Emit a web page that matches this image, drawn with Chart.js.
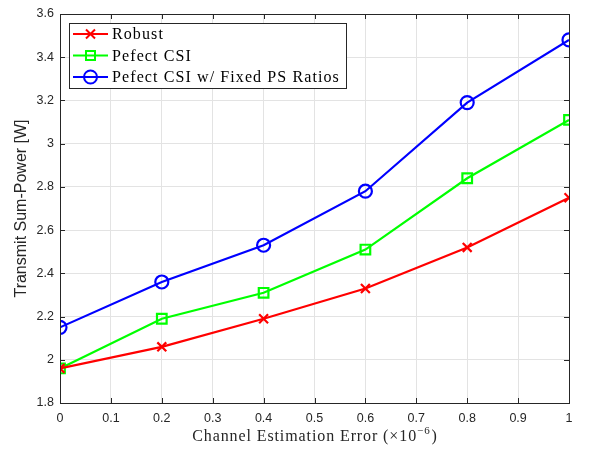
<!DOCTYPE html>
<html>
<head>
<meta charset="utf-8">
<script src="https://cdn.jsdelivr.net/npm/chart.js@4"></script>
<style>
  body { margin: 0; background: #fff; }
  #wrap { width: 589px; height: 450px; }
</style>
</head>
<body>
<div id="wrap"><canvas id="myChart" width="589" height="450"></canvas></div>
<script>
  const errors = [0, 0.2, 0.4, 0.6, 0.8, 1.0];
  const robust = [1.96, 2.06, 2.19, 2.33, 2.52, 2.75];
  const perfectCsi = [1.96, 2.19, 2.31, 2.51, 2.84, 3.11];
  const fixedPs = [2.15, 2.36, 2.53, 2.78, 3.19, 3.48];
  const seriesNames = ['Robust', 'Pefect CSI', 'Pefect CSI w/ Fixed PS Ratios'];
  const xTitle = 'Channel Estimation Error (×10';
  const xTitleExp = '−6';
  const yTitle = 'Transmit Sum-Power [W]';

  const toPoints = ys => ys.map((y, i) => ({ x: errors[i], y: y }));

  // MATLAB style box, inward ticks, axis titles and legend inside the axes
  const matlabBox = {
    id: 'matlabBox',
    afterDraw(chart) {
      const { ctx, chartArea: a, scales } = chart;
      ctx.save();
      ctx.strokeStyle = '#262626';
      ctx.lineWidth = 1;
      ctx.strokeRect(a.left + 0.5, a.top + 0.5, a.right - a.left, a.bottom - a.top);
      ctx.beginPath();
      scales.x.ticks.forEach(t => {
        const px = Math.round(scales.x.getPixelForValue(t.value)) + 0.5;
        ctx.moveTo(px, a.bottom); ctx.lineTo(px, a.bottom - 5);
        ctx.moveTo(px, a.top); ctx.lineTo(px, a.top + 5);
      });
      scales.y.ticks.forEach(t => {
        const py = Math.round(scales.y.getPixelForValue(t.value)) + 0.5;
        ctx.moveTo(a.left, py); ctx.lineTo(a.left + 5, py);
        ctx.moveTo(a.right, py); ctx.lineTo(a.right - 5, py);
      });
      ctx.stroke();

      // axis titles
      ctx.fillStyle = '#262626';
      ctx.textBaseline = 'middle';
      ctx.font = '16px "Liberation Sans", Arial, sans-serif';
      ctx.save();
      ctx.translate(22, (a.top + a.bottom) / 2);
      ctx.rotate(-Math.PI / 2);
      ctx.textAlign = 'center';
      ctx.fillText(yTitle, 0, 0);
      ctx.restore();

      ctx.font = '16px "Liberation Serif", serif';
      ctx.letterSpacing = '0.9px';
      const w1 = ctx.measureText(xTitle).width;
      ctx.font = '11px "Liberation Serif", serif';
      const w2 = ctx.measureText(xTitleExp).width;
      ctx.font = '16px "Liberation Serif", serif';
      const w3 = ctx.measureText(')').width;
      let tx = (a.left + a.right) / 2 - (w1 + w2 + w3) / 2;
      ctx.textAlign = 'left';
      ctx.fillText(xTitle, tx, 437);
      ctx.font = '11px "Liberation Serif", serif';
      ctx.fillText(xTitleExp, tx + w1, 431);
      ctx.font = '16px "Liberation Serif", serif';
      ctx.fillText(')', tx + w1 + w2 + 1, 437);

      // legend
      const lx = a.left + 9, ly = a.top + 9, lw = 277, lh = 65;
      ctx.fillStyle = '#fff';
      ctx.fillRect(lx, ly, lw, lh);
      ctx.strokeStyle = '#262626';
      ctx.lineWidth = 1;
      ctx.strokeRect(lx + 0.5, ly + 0.5, lw, lh);
      ctx.font = '16px "Liberation Serif", serif';
      ctx.letterSpacing = '1.1px';
      ctx.textBaseline = 'middle';
      chart.data.datasets.forEach((ds, i) => {
        const cy = ly + 11 + i * 21.5;
        ctx.strokeStyle = ds.borderColor;
        ctx.lineWidth = 2;
        ctx.beginPath();
        ctx.moveTo(lx + 4, cy); ctx.lineTo(lx + 39, cy);
        ctx.stroke();
        const mx = lx + 21.5;
        ctx.beginPath();
        if (ds.pointStyle === 'crossRot') {
          ctx.moveTo(mx - 4.5, cy - 4.5); ctx.lineTo(mx + 4.5, cy + 4.5);
          ctx.moveTo(mx + 4.5, cy - 4.5); ctx.lineTo(mx - 4.5, cy + 4.5);
        } else if (ds.pointStyle === 'rect') {
          ctx.rect(mx - 4.5, cy - 4.5, 9, 9);
        } else {
          ctx.arc(mx, cy, 6.5, 0, Math.PI * 2);
        }
        ctx.stroke();
        ctx.fillStyle = '#000';
        ctx.fillText(ds.label, lx + 43, cy + 1);
      });
      ctx.restore();
    }
  };

  const ctx = document.getElementById('myChart').getContext('2d');
  const myChart = new Chart(ctx, {
    type: 'line',
    data: {
      datasets: [
        {
          label: seriesNames[0],
          data: toPoints(robust),
          borderColor: '#ff0000',
          backgroundColor: '#ff0000',
          borderWidth: 2.2,
          pointStyle: 'crossRot',
          pointRadius: 6.3,
          pointBorderWidth: 2.2
        },
        {
          label: seriesNames[1],
          data: toPoints(perfectCsi),
          borderColor: '#00ff00',
          backgroundColor: 'transparent',
          borderWidth: 2.2,
          pointStyle: 'rect',
          pointRadius: 6.8,
          pointBorderWidth: 2.2
        },
        {
          label: seriesNames[2],
          data: toPoints(fixedPs),
          borderColor: '#0000ff',
          backgroundColor: 'transparent',
          borderWidth: 2.2,
          pointStyle: 'circle',
          pointRadius: 6.5,
          pointBorderWidth: 2.2
        }
      ]
    },
    options: {
      responsive: false,
      animation: false,
      layout: { padding: { top: 14, right: 20, left: 0, bottom: 0 } },
      plugins: {
        legend: { display: false },
        tooltip: { enabled: false }
      },
      scales: {
        x: {
          type: 'linear',
          min: 0,
          max: 1,
          afterFit: s => { s.height = 47; },
          grid: { color: '#e3e3e3', drawTicks: false },
          border: { display: false },
          ticks: {
            stepSize: 0.1,
            padding: 8,
            color: '#262626',
            font: { family: '"Liberation Sans", Arial, sans-serif', size: 12.5 },
            callback: v => Number(v.toFixed(1)).toString()
          }
        },
        y: {
          min: 1.8,
          max: 3.6,
          afterFit: s => { s.width = 60; },
          grid: { color: '#e3e3e3', drawTicks: false },
          border: { display: false },
          ticks: {
            stepSize: 0.2,
            padding: 6,
            color: '#262626',
            font: { family: '"Liberation Sans", Arial, sans-serif', size: 12.5 },
            callback: v => Number(v.toFixed(1)).toString()
          }
        }
      }
    },
    plugins: [matlabBox]
  });
</script>
</body>
</html>
